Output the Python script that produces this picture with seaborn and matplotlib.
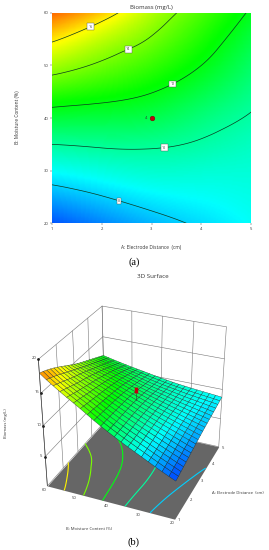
#!/usr/bin/env python3
# Biomass response surface: contour plot (a) and 3D surface (b)
import numpy as np
import pandas as pd
import matplotlib
matplotlib.use('Agg')
import matplotlib.pyplot as plt
import matplotlib.tri as mtri
from mpl_toolkits.mplot3d import proj3d
import seaborn as sns

###############################################################################
# Data
###############################################################################
distance = [1, 2, 3, 4, 5]
moisture = [20, 25, 30, 35, 40, 45, 50, 55, 60]

biomass_d1 = [6.2, 7.4, 8.7, 10.0, 11.4, 12.95, 14.6, 16.2, 18.0]
biomass_d2 = [6.9, 7.95, 9.05, 10.15, 11.3, 12.55, 13.8, 15.0, 16.6]
biomass_d3 = [7.6, 8.45, 9.3, 10.15, 11.1, 12.05, 13.0, 13.9, 14.8]
biomass_d4 = [8.15, 8.7, 9.25, 9.87, 10.5, 11.25, 12.0, 12.65, 13.3]
biomass_d5 = [8.7, 8.95, 9.2, 9.5, 9.9, 10.35, 10.8, 11.3, 11.85]

levels = [8, 10, 12, 14, 16]
label_spots = [(2.35, 24.3), (3.25, 34.7), (3.4, 46.8), (2.55, 52.7), (1.8, 57)]
center_point = (3, 40, 12.2)

x_ticks = [1, 2, 3, 4, 5]
y_ticks = [20, 30, 40, 50, 60]
z_ticks = [5, 10, 15, 20]

###############################################################################
# Table and smooth resampling for drawing
###############################################################################
table = pd.DataFrame({'d1': biomass_d1, 'd2': biomass_d2, 'd3': biomass_d3,
                      'd4': biomass_d4, 'd5': biomass_d5}, index = moisture)

A, B = np.meshgrid(distance, moisture)
Z = table.to_numpy()

tri = mtri.Triangulation(A.ravel(), B.ravel())
interp = mtri.CubicTriInterpolator(tri, Z.ravel(), kind = 'min_E')

fine_a = np.linspace(1, 5, 161)
fine_b = np.linspace(20, 60, 161)
FA, FB = np.meshgrid(fine_a, fine_b)
FZ = np.asarray(interp(FA, FB))

mesh_a = np.linspace(1, 5, 21)
mesh_b = np.linspace(20, 60, 21)
MA, MB = np.meshgrid(mesh_a, mesh_b)
MZ = np.asarray(interp(MA, MB))

rainbow = sns.blend_palette(['#0000ff', '#00ffff', '#00ff00', '#ffff00', '#ff0000'],
                            n_colors = 256, as_cmap = True)
norm = plt.Normalize(5, 19.5)

sns.set_theme(style = 'white')
plt.rcParams['font.family'] = ['Open Sans', 'DejaVu Sans']
plt.rcParams['axes.linewidth'] = 0.4

W, H = 269, 550
fig = plt.figure(figsize = (W / 100, H / 100), dpi = 100)

###############################################################################
# (a) Contour plot
###############################################################################
ax = fig.add_axes([51.7 / W, 1 - 223.3 / H, 199.6 / W, 210.6 / H])
ax.pcolormesh(FA, FB, FZ, cmap = rainbow, norm = norm, shading = 'gouraud')
cs = ax.contour(FA, FB, FZ, levels = levels, colors = '#0b3a20', linewidths = 0.5)
labels = ax.clabel(cs, fmt = '%d', fontsize = 2.6, manual = label_spots, inline = False)
for lab in labels:
    lab.set_rotation(0)
    lab.set_color('#444444')
    lab.set_bbox(dict(facecolor = 'white', edgecolor = '#555555', linewidth = 0.3,
                      boxstyle = 'square,pad=0.35'))

ax.plot(center_point[0], center_point[1], 'o', color = '#c00010', ms = 3.4,
        mec = '#700000', mew = 0.3)
ax.text(2.91, 40, '4', fontsize = 2.8, color = '#333333', ha = 'right', va = 'center')

ax.set_xlim(1, 5)
ax.set_ylim(20, 60)
ax.set_xticks(x_ticks)
ax.set_yticks(y_ticks)
ax.tick_params(length = 1.5, width = 0.3, labelsize = 3, pad = 1, colors = '#333333',
               bottom = True, left = True)
for side in ax.spines.values():
    side.set_visible(False)

ax.set_title('Biomass (mg/L)', fontsize = 4.3, pad = 2.5, color = '#333333')
fig.text(151 / W, 1 - 248 / H, 'A: Electrode Distance  (cm)', fontsize = 3.5,
         color = '#333333', ha = 'center', va = 'center')
fig.text(18 / W, 1 - 117 / H, 'B: Moisture Content (%)', fontsize = 3.5, rotation = 90,
         color = '#333333', ha = 'center', va = 'center')
fig.text(134 / W, 1 - 262.5 / H, '(a)', fontsize = 7.5, family = 'Liberation Serif',
         color = 'black', ha = 'center', va = 'center')

###############################################################################
# (b) 3D surface
###############################################################################
ax3 = fig.add_axes([-0.006, 0.019, 1.0, 0.47], projection = '3d', computed_zorder = False)
ax3.set_proj_type('persp', focal_length = 0.55)
ax3.view_init(elev = 30, azim = -157)
ax3.set_box_aspect((1, 1, 1.04), zoom = 0.9)
ax3.set_xlim(1, 5)
ax3.set_ylim(20, 60)
ax3.set_zlim(0, 20)
ax3.set_axis_off()
ax3.patch.set_alpha(0)

# back walls
wall = dict(color = '#777777', lw = 0.4, zorder = 1)
for z in [0] + z_ticks:
    ax3.plot([1, 5], [60, 60], [z, z], **wall)
    ax3.plot([5, 5], [20, 60], [z, z], **wall)
for a in x_ticks:
    ax3.plot([a, a], [60, 60], [0, 20], **wall)
for b in y_ticks:
    ax3.plot([5, 5], [b, b], [0, 20], **wall)

# floor with projected contours
ax3.plot_surface(np.array([[1, 5], [1, 5]]), np.array([[20, 20], [60, 60]]),
                 np.zeros((2, 2)), color = '#666666', shade = False, zorder = 2,
                 linewidth = 0)
ax3.contour(FA, FB, FZ, levels = levels, zdir = 'z', offset = 0, cmap = rainbow,
            norm = norm, linewidths = 0.8, zorder = 3)

# surface
ax3.plot_surface(MA, MB, MZ, facecolors = rainbow(norm(MZ)), rstride = 1, cstride = 1,
                 shade = False, edgecolor = '#1a2a2a', linewidth = 0.25, zorder = 4)

# centre point
ax3.plot([3, 3], [40, 40], [11.1, center_point[2]], color = '#333333', lw = 0.4, zorder = 5)
ax3.plot([3, 3], [40, 40], [center_point[2], center_point[2] + 1.0], color = '#c00010',
         lw = 2.5, solid_capstyle = 'butt', zorder = 6)

# z axis with dark tick dots
ax3.plot([1, 1], [60, 60], [0, 20], color = '#444444', lw = 0.5, zorder = 5)
ax3.plot([1] * len(z_ticks), [60] * len(z_ticks), z_ticks, ls = 'none', marker = 'o',
         ms = 1, color = '#222222', zorder = 5)

# tick labels, placed through the 3D projection
fig.canvas.draw()
tick_text = dict(fontsize = 3, color = '#333333', ha = 'center', va = 'center',
                 transform = ax3.transData, zorder = 7)

def tick_label(a, b, z, s):
    px, py, _ = proj3d.proj_transform(a, b, z, ax3.get_proj())
    ax3.text2D(px, py, s, **tick_text)

for a in x_ticks:
    tick_label(a, 18.7, 0, str(a))
for b in y_ticks:
    tick_label(0.8, b, 0, str(b))
for z in z_ticks:
    tick_label(1, 61.3, z, str(z))

fig.text(153 / W, 1 - 277 / H, '3D Surface', fontsize = 4.5, color = '#333333',
         ha = 'center', va = 'center')
fig.text(238 / W, 1 - 493.5 / H, 'A: Electrode Distance  (cm)', fontsize = 3,
         color = '#333333', ha = 'center', va = 'center')
fig.text(89 / W, 1 - 529.5 / H, 'B: Moisture Content (%)', fontsize = 3,
         color = '#333333', ha = 'center', va = 'center')
fig.text(6.5 / W, 1 - 423 / H, 'Biomass (mg/L)', fontsize = 3, rotation = 90,
         color = '#333333', ha = 'center', va = 'center')
fig.text(134 / W, 1 - 542 / H, '(b)', fontsize = 7.5, family = 'Liberation Serif',
         color = 'black', ha = 'center', va = 'center')

plt.savefig('out.png', dpi = 100)
